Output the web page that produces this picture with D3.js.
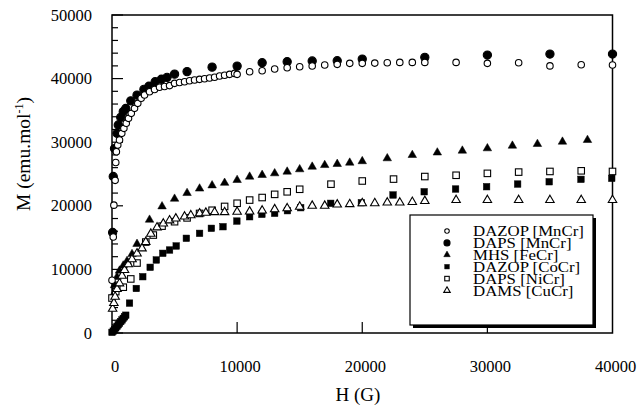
<!DOCTYPE html>
<html lang="en">
<head>
  <meta charset="UTF-8">
  <title>M vs H</title>
  <script src="https://d3js.org/d3.v7.min.js"></script>
  <style>
    body {
      margin: 0;
      background: #fff;
    }
    svg {
      display: block;
      font-family: "Liberation Serif", "Times New Roman", serif;
    }
  </style>
</head>
<body>
  <svg width="639" height="406"></svg>

  <script>
    // tick values
    const xTicks = [0, 10000, 20000, 30000, 40000];
    const yTicks = [0, 10000, 20000, 30000, 40000, 50000];
    const yMinor = d3.range(0, 50001, 2000);

    // series: [H (G), M (emu/mol)]
    const dazopMnCr = [
      [0, 8300], [100, 15100], [150, 20100], [250, 24000], [300, 26800], [350, 28500],
      [460, 29550], [600, 30340], [780, 31390], [950, 32180], [1140, 32970], [1320, 33750],
      [1540, 34540], [1800, 35320], [2060, 36110], [2330, 36900], [2600, 37420], [3000, 37930],
      [3400, 38280], [3800, 38630], [4200, 38750], [4600, 38900], [5000, 39250], [5400, 39380],
      [5800, 39500], [6200, 39660], [6600, 39770], [7000, 39880], [7400, 39980], [7800, 40090],
      [8200, 40210], [8600, 40400], [9000, 40530], [9400, 40670], [9800, 40820], [10000, 40670],
      [11000, 41080], [12000, 41230], [13000, 41500], [14000, 41700], [15000, 41860],
      [16000, 41970], [17000, 42130], [18000, 42240], [19000, 42400], [20000, 42400],
      [21000, 42440], [22000, 42490], [23000, 42550], [24000, 42550], [25000, 42550],
      [27500, 42550], [30000, 42400], [32500, 42500], [35000, 42000], [37500, 42180], [40000, 42130]
    ];
    const dapsMnCr = [
      [50, 15800], [100, 24600], [200, 29000], [400, 31400], [500, 32700], [700, 33900],
      [900, 34800], [1100, 35300], [1500, 36500], [2000, 37400], [2550, 38300], [2950, 38800],
      [3450, 39500], [3950, 39900], [4400, 40200], [5000, 40700], [6000, 41100], [8000, 41800],
      [10000, 41970], [12000, 42490], [14000, 42650], [16000, 42760], [18000, 42800],
      [20000, 43070], [25000, 43340], [30000, 43700], [35000, 43860], [40000, 43860]
    ];
    const mhsFeCr = [
      [100, 6000], [200, 7500], [400, 8800], [600, 9800], [900, 10600], [1200, 11300],
      [1600, 12400], [2000, 14000], [3000, 17800], [4000, 19900], [5000, 21100], [6000, 22000],
      [7000, 22700], [8000, 23200], [9000, 23600], [10000, 24050], [11000, 24570],
      [12000, 24840], [13000, 25100], [14000, 25360], [15000, 25730], [16000, 26140],
      [17000, 26400], [18000, 26570], [19000, 26770], [20000, 27000], [22000, 27460],
      [24000, 27980], [26000, 28370], [28000, 28660], [30000, 29030], [32000, 29440],
      [34000, 29710], [36000, 30070], [38000, 30340]
    ];
    const dazopCoCr = [
      [0, 100], [100, 300], [200, 550], [300, 800], [400, 1050], [500, 1300], [600, 1550],
      [700, 1800], [800, 2050], [900, 2300], [1000, 2550], [1100, 2800], [1400, 4700],
      [1940, 7000], [2460, 8850], [3050, 10330], [3540, 11480], [4060, 12530], [4600, 13050],
      [5130, 13680], [5940, 14890], [7000, 15670], [7940, 16460], [8870, 16710],
      [9980, 17600], [11000, 18280], [11980, 18660], [13000, 18820], [14020, 19230],
      [15080, 19700], [17480, 20390], [19930, 20480], [22460, 21700], [24950, 22210],
      [27460, 22640], [29940, 23000], [32420, 23420], [34940, 23780], [37480, 24160],
      [39940, 24320]
    ];
    const dapsNiCr = [
      [0, 5500], [300, 6500], [900, 7200], [1500, 8500], [2000, 11000], [2700, 14300],
      [3300, 15400], [4000, 16800], [5000, 17500], [6000, 18100], [7000, 18800], [8000, 19300],
      [9000, 19900], [10000, 20400], [11000, 20900], [12000, 21300], [13000, 21800],
      [14000, 22200], [15000, 22600], [17500, 23400], [20000, 23900], [22500, 24200],
      [25000, 24600], [27500, 24800], [30000, 25100], [32500, 25300], [35000, 25400],
      [37500, 25500], [40000, 25400]
    ];
    const damsCuCr = [
      [50, 3800], [150, 4700], [250, 5700], [400, 6900], [600, 7800], [800, 9000],
      [1000, 9900], [1300, 10800], [1600, 11600], [2000, 12500], [2400, 13300], [2700, 14300],
      [3100, 15600], [3600, 16600], [4100, 17200], [4600, 17700], [5100, 18000], [5800, 18300],
      [6300, 18500], [7000, 18800], [7500, 18900], [8200, 19000], [9000, 19000],
      [10000, 19050], [11000, 19100], [12000, 19250], [13000, 19450], [14000, 19600],
      [15000, 19850], [16000, 20000], [17000, 20000], [18000, 20200], [19000, 20250],
      [20000, 20400], [21000, 20400], [22000, 20500], [23000, 20500], [24000, 20600],
      [25000, 20750], [27500, 20900], [30000, 20900], [32500, 20900], [35000, 20900],
      [37500, 20900], [40000, 20900]
    ];

    const series = [
      { name: "DAZOP [MnCr]", data: dazopMnCr, shape: "circle", filled: false, order: 5 },
      { name: "DAPS [MnCr]", data: dapsMnCr, shape: "circle", filled: true, order: 0 },
      { name: "MHS [FeCr]", data: mhsFeCr, shape: "triangle", filled: true, order: 1 },
      { name: "DAZOP [CoCr]", data: dazopCoCr, shape: "square", filled: true, order: 2 },
      { name: "DAPS [NiCr]", data: dapsNiCr, shape: "square", filled: false, order: 3 },
      { name: "DAMS [CuCr]", data: damsCuCr, shape: "triangle", filled: false, order: 4 }
    ];

    const svg = d3.select("svg");
    const pLeft = 112, pRight = 612.5, pTop = 15, pBottom = 333;

    const x = d3.scaleLinear().domain([0, 40000]).range([pLeft, pRight]);
    const y = d3.scaleLinear().domain([0, 50000]).range([pBottom, pTop]);

    // frame
    svg.append("rect")
      .attr("x", pLeft).attr("y", pTop)
      .attr("width", pRight - pLeft).attr("height", pBottom - pTop)
      .attr("fill", "none").attr("stroke", "#000").attr("stroke-width", 1.5);

    // y ticks, inward
    svg.selectAll("line.ymin")
      .data(yMinor)
      .enter().append("line")
      .attr("x1", pLeft).attr("x2", d => pLeft + (d % 10000 === 0 ? 11 : 6))
      .attr("y1", d => y(d)).attr("y2", d => y(d))
      .attr("stroke", "#000").attr("stroke-width", 1.2);

    svg.selectAll("text.ytick")
      .data(yTicks)
      .enter().append("text")
      .attr("x", 92).attr("y", d => y(d) + 5.5)
      .attr("text-anchor", "end")
      .attr("font-size", 16.5)
      .text(d => d);

    // x ticks, inward
    svg.selectAll("line.xtick")
      .data(xTicks.slice(1, -1))
      .enter().append("line")
      .attr("x1", d => x(d)).attr("x2", d => x(d))
      .attr("y1", pBottom).attr("y2", pBottom - 11)
      .attr("stroke", "#000").attr("stroke-width", 1.2);

    svg.selectAll("text.xtick")
      .data(xTicks)
      .enter().append("text")
      .attr("x", d => x(d) + 3).attr("y", 372)
      .attr("text-anchor", "middle")
      .attr("font-size", 16.5)
      .text(d => d);

    // axis titles
    svg.append("text")
      .attr("x", 358).attr("y", 401)
      .attr("text-anchor", "middle")
      .attr("font-size", 19)
      .text("H (G)");

    const yt = svg.append("text")
      .attr("transform", "translate(30,154) rotate(-90)")
      .attr("text-anchor", "middle")
      .attr("font-size", 19.5);
    yt.append("tspan").text("M (emu.mol");
    yt.append("tspan").attr("font-size", 12).attr("dy", -7).text("-1");
    yt.append("tspan").attr("dy", 7).text(")");

    // marker drawing
    function drawMarker(g, shape, filled, size) {
      const fill = filled ? "#000" : "#fff";
      if (shape === "circle") {
        g.append("circle").attr("r", filled ? size * 0.55 : size * 0.5 - 0.5)
          .attr("fill", fill).attr("stroke", "#000").attr("stroke-width", 1.1);
      } else if (shape === "square") {
        const s = size - 1;
        g.append("rect").attr("x", -s / 2).attr("y", -s / 2)
          .attr("width", s).attr("height", s)
          .attr("fill", fill).attr("stroke", "#000").attr("stroke-width", filled ? 0.5 : 1.1);
      } else {
        const w = size + 1;
        const area = Math.sqrt(3) / 4 * w * w;
        g.append("path").attr("d", d3.symbol(d3.symbolTriangle, area)())
          .attr("fill", fill).attr("stroke", "#000").attr("stroke-width", filled ? 0.5 : 1.1);
      }
    }

    const plot = svg.append("g");
    series.slice().sort((a, b) => a.order - b.order).forEach(s => {
      plot.append("g").selectAll("g")
        .data(s.data)
        .enter().append("g")
        .attr("transform", d => `translate(${x(d[0])},${y(d[1])})`)
        .each(function () { drawMarker(d3.select(this), s.shape, s.filled, 7.5); });
    });

    // legend
    const lg = svg.append("g");
    lg.append("rect").attr("x", 413).attr("y", 218).attr("width", 183).attr("height", 110)
      .attr("fill", "#000");
    lg.append("rect").attr("x", 410).attr("y", 215).attr("width", 183).attr("height", 110)
      .attr("fill", "#fff").attr("stroke", "#000").attr("stroke-width", 1.2);

    series.forEach((s, i) => {
      const cy = 231 + i * 11.9;
      const g = lg.append("g").attr("transform", `translate(447,${cy})`);
      drawMarker(g, s.shape, s.filled, 5.5);
      const t = lg.append("text").attr("x", 473).attr("y", cy + 5)
        .attr("font-size", 15)
        .text(s.name);
      const w = t.node().getComputedTextLength();
      t.attr("textLength", w * 1.12).attr("lengthAdjust", "spacingAndGlyphs");
    });
  </script>
</body>
</html>
